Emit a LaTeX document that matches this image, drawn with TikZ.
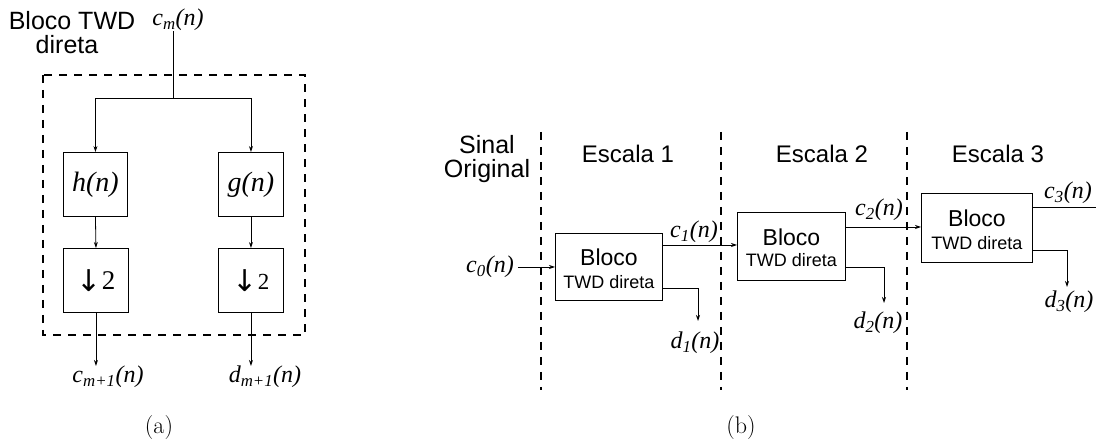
\documentclass[tikz,border=0pt]{standalone}
\usepackage{fontspec}
\newfontfamily\arialf{Liberation Sans}
\newfontfamily\tnr{Liberation Serif}
\newfontfamily\djv{DejaVu Sans}
\usetikzlibrary{arrows.meta}
\begin{document}
\begin{tikzpicture}[x=1pt,y=-1pt,
  blk/.style={draw, line width=0.9pt, inner sep=0pt, anchor=north west},
  lbl/.style={font=\tnr\itshape\fontsize{24}{24}\selectfont, inner sep=0pt},
  sans/.style={font=\arialf\fontsize{24}{24}\selectfont, inner sep=0pt},
  bigsans/.style={font=\arialf\fontsize{25}{25}\selectfont, inner sep=0pt},
  blocotxt/.style={font=\arialf\fontsize{23}{23}\selectfont, inner sep=0pt},
  twdtxt/.style={font=\arialf\fontsize{18}{18}\selectfont, inner sep=0pt},
  sep/.style={line width=1.6pt, dash pattern=on 8pt off 7pt},
  arr/.style={-{Stealth[length=6pt,width=4pt]}, line width=0.8pt},
  ln/.style={line width=0.8pt},
  captxt/.style={font=\fontsize{24}{24}\selectfont, inner sep=0pt}
]
\useasboundingbox (0,0) rectangle (1096,443);

% ---------------- (a) ----------------
\node[bigsans] (ta1) at (72,21) {Bloco TWD};
\node[bigsans] (ta2) at (67,45) {direta};
\node[lbl] (cm) at (178,20) {c\textsubscript{m}(n)};
\draw[sep] (43,75) rectangle (305,335);

\node[blk, minimum width=64pt, minimum height=64pt, font=\tnr\itshape\fontsize{28}{28}\selectfont] (h) at (63,152) {h(n)};
\node[blk, minimum width=65pt, minimum height=64pt, font=\tnr\itshape\fontsize{28}{28}\selectfont] (g) at (218,152) {g(n)};
\node[blk, minimum width=65pt, minimum height=64pt] (dh) at (63,248) {{\djv\fontsize{30}{30}\selectfont\raisebox{-2pt}{↓}}{\tnr\fontsize{27}{27}\selectfont 2}};
\node[blk, minimum width=65pt, minimum height=64pt] (dg) at (218,248) {{\djv\fontsize{30}{30}\selectfont\raisebox{-2pt}{↓}}{\tnr\fontsize{23}{23}\selectfont 2}};

\coordinate (j) at (173,98);
\draw[ln] (j |- cm.south) -- (j);
\draw[arr] (j) -| (h.north);
\draw[arr] (j) -| (g.north);
\draw[arr] (h.south) -- (dh.north);
\draw[arr] (g.south) -- (dg.north);

\node[lbl] (cout) at (108,377) {c\textsubscript{m+1}(n)};
\node[lbl] (dout) at (265,377) {d\textsubscript{m+1}(n)};
\draw[arr] (dh.south) -- (dh.south |- cout.north);
\draw[arr] (dg.south) -- (dg.south |- dout.north);

\node[captxt] (capa) at (159,428) {(a)};

% ---------------- (b) ----------------
\draw[sep] (541,132) -- (541,390);
\draw[sep] (721,132) -- (721,390);
\draw[sep] (907,132) -- (907,390);

\node[bigsans] (s1) at (487,145) {Sinal};
\node[bigsans] (s2) at (487,171) {Original};
\node[sans] (e1) at (628,154) {Escala 1};
\node[sans] (e2) at (822,154) {Escala 2};
\node[sans] (e3) at (998,154) {Escala 3};

\node[blk, minimum width=107pt, minimum height=67pt] (b1) at (555,233) {};
\node[blk, minimum width=108pt, minimum height=68pt] (b2) at (737,212) {};
\node[blk, minimum width=111pt, minimum height=69pt] (b3) at (921,193) {};
\node[blocotxt] (b1a) at ([yshift=-24pt]b1.north) {Bloco};
\node[twdtxt]   (b1b) at ([yshift=-49pt]b1.north) {TWD direta};
\node[blocotxt] (b2a) at ([yshift=-25pt]b2.north) {Bloco};
\node[twdtxt]   (b2b) at ([yshift=-48pt]b2.north) {TWD direta};
\node[blocotxt] (b3a) at ([yshift=-25pt]b3.north) {Bloco};
\node[twdtxt]   (b3b) at ([yshift=-50pt]b3.north) {TWD direta};

\node[lbl] (c0) at (490,267) {c\textsubscript{0}(n)};
\draw[arr] ([xshift=4pt]c0.east) -- (c0.east -| b1.west);

\node[lbl] (c1) at (694,232) {c\textsubscript{1}(n)};
\draw[arr] ([yshift=-12pt]b1.north east) coordinate (t1) -- (t1 -| b2.west);
\node[lbl] (c2) at (879,210) {c\textsubscript{2}(n)};
\draw[arr] ([yshift=-15pt]b2.north east) coordinate (t2) -- (t2 -| b3.west);
\node[lbl] (c3) at (1068,193) {c\textsubscript{3}(n)};
\coordinate (c3e) at (1096,207);
\draw[ln] (b3.east |- c3e) -- (c3e);

\node[lbl] (d1) at (695,343) {d\textsubscript{1}(n)};
\coordinate (d1e) at (698,321);
\draw[arr] ([yshift=12pt]b1.south east) -| (d1e);
\node[lbl] (d2) at (878,323) {d\textsubscript{2}(n)};
\coordinate (d2e) at (884,303);
\draw[arr] ([yshift=13pt]b2.south east) -| (d2e);
\node[lbl] (d3) at (1069,302) {d\textsubscript{3}(n)};
\coordinate (d3e) at (1067,287);
\draw[arr] ([yshift=12pt]b3.south east) -| (d3e);

\node[captxt] (capb) at (741,428) {(b)};
\end{tikzpicture}
\end{document}
